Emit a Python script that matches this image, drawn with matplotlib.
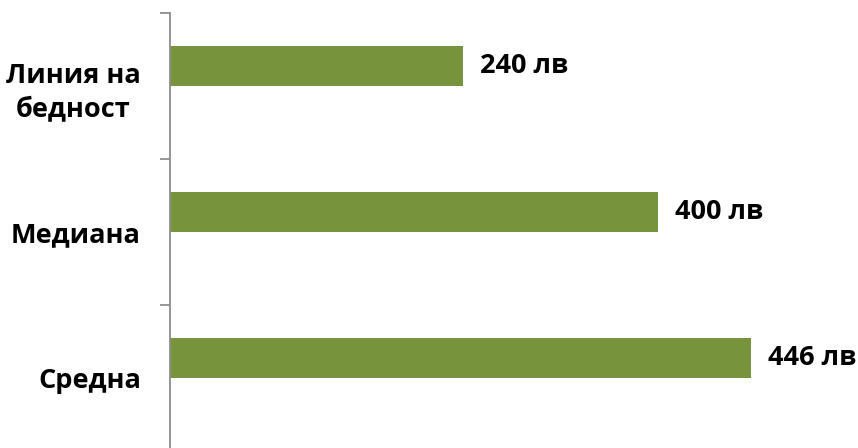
import matplotlib.pyplot as plt
import numpy as np

# categories top to bottom
categories = ["Линия на\nбедност", "Медиана", "Средна"]
# bar lengths as drawn in the picture
bar_values = [240, 400, 476]
# value labels as printed on the chart
value_labels = ["240 лв", "400 лв", "446 лв"]

plt.rcParams["font.family"] = ["Open Sans", "DejaVu Sans"]

fig = plt.figure(figsize=(8.58, 4.48), dpi=100)
ax = fig.add_axes([170 / 858, -3 / 448, (850 - 170) / 858, 1 - 13 / 448 + 3 / 448])

pos = np.arange(len(categories))
offset = -0.137
ax.barh(pos + offset, bar_values, height=0.28, color="#77933C", zorder=2)

for p, v, lab in zip(pos, bar_values, value_labels):
    ax.text(v + 14, p + offset, lab, va="center", ha="left",
            fontsize=19.5, fontweight="bold", color="black")

ax.set_xlim(0, (850 - 170) / 1.22)
ax.set_ylim(2.5, -0.5)

for s in ["top", "right", "bottom"]:
    ax.spines[s].set_visible(False)
ax.spines["left"].set_color("#8c8c8c")
ax.spines["left"].set_linewidth(1.3)

ax.set_xticks([])
ax.set_yticks(pos)
ax.set_yticklabels(categories, fontsize=19.5, fontweight="bold",
                   multialignment="center", linespacing=1.4)
ax.tick_params(axis="y", which="major", length=0, pad=21)
ax.set_yticks([-0.5, 0.5, 1.5, 2.5], minor=True)
ax.tick_params(axis="y", which="minor", length=7.5, width=1.3,
               color="#8c8c8c")

fig.savefig("out.png", dpi=100)
